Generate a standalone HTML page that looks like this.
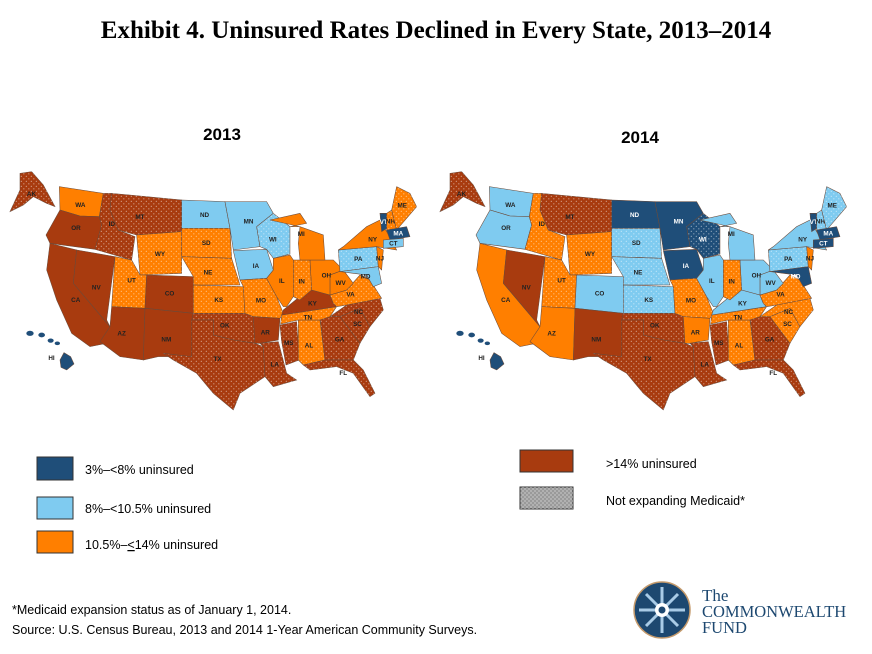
<!DOCTYPE html>
<html><head><meta charset="utf-8"><style>
body{margin:0;background:#fff;width:872px;height:654px;overflow:hidden;font-family:"Liberation Sans",sans-serif}
svg{display:block}
</style></head><body>
<svg id="chart" width="872" height="654" viewBox="0 0 872 654" xmlns="http://www.w3.org/2000/svg">
<defs>
<pattern id="dots" width="15" height="15" patternUnits="userSpaceOnUse">
<circle cx="4" cy="4" r="1.8" fill="#fff" opacity="0.55"/><circle cx="11.5" cy="11.5" r="1.8" fill="#fff" opacity="0.55"/>
</pattern>
<pattern id="dotsL" width="4" height="4" patternUnits="userSpaceOnUse">
<circle cx="1" cy="1" r="0.6" fill="#fff" opacity="0.8"/><circle cx="3" cy="3" r="0.6" fill="#fff" opacity="0.8"/>
</pattern>
</defs>
<text x="436" y="38" text-anchor="middle" font-family="Liberation Serif,serif" font-weight="bold" font-size="25" fill="#000">Exhibit 4. Uninsured Rates Declined in Every State, 2013–2014</text>
<text x="222" y="140" text-anchor="middle" font-weight="bold" font-size="17">2013</text>
<text x="640" y="143" text-anchor="middle" font-weight="bold" font-size="17">2014</text>
<g id="map2013" transform="translate(0,160) scale(0.3333)"></g>
<g id="map2014" transform="translate(430,160) scale(0.3333)"></g>
<g font-size="12.5" fill="#000">
<rect x="37" y="457" width="36" height="23" fill="#1f4e79" stroke="#333"/>
<text x="85" y="474">3%–&lt;8% uninsured</text>
<rect x="37" y="497" width="36" height="22" fill="#7fcbf0" stroke="#333"/>
<text x="85" y="513">8%–&lt;10.5% uninsured</text>
<rect x="37" y="531" width="36" height="22" fill="#ff7f00" stroke="#333"/>
<text x="85" y="549">10.5%–<tspan text-decoration="underline">&lt;</tspan>14% uninsured</text>
<rect x="520" y="450" width="53" height="22" fill="#a83b0f" stroke="#333"/>
<text x="606" y="468">&gt;14% uninsured</text>
<rect x="520" y="487" width="53" height="22" fill="#9a9a9a" stroke="#333"/>
<rect x="520" y="487" width="53" height="22" fill="url(#dotsL)"/>
<text x="606" y="505">Not expanding Medicaid*</text>
</g>
<text x="12" y="614" font-size="12.5">*Medicaid expansion status as of January 1, 2014.</text>
<text x="12" y="634" font-size="12.5">Source: U.S. Census Bureau, 2013 and 2014 1-Year American Community Surveys.</text>
<g>
<circle cx="662" cy="610" r="28" fill="#1d4870" stroke="#c49a6c" stroke-width="1.5"/>
<g stroke="#a9cbe6" stroke-width="3">
<line x1="662" y1="587" x2="662" y2="633"/><line x1="639" y1="610" x2="685" y2="610"/>
<line x1="646" y1="594" x2="678" y2="626"/><line x1="678" y1="594" x2="646" y2="626"/>
</g>
<circle cx="662" cy="610" r="7" fill="#fff"/><circle cx="662" cy="610" r="3.5" fill="#1d4870"/>
<g font-family="Liberation Serif,serif" fill="#1d4870">
<text x="702" y="601" font-size="17">The</text>
<text x="702" y="617" font-size="16.5">COMMONWEALTH</text>
<text x="702" y="633" font-size="16.5">FUND</text>
</g>
</g>
</svg>
<script>
const states = ["AK","WA","OR","CA","NV","ID","MT","WY","UT","CO","AZ","NM","ND","SD","NE","KS","OK","TX","MN","IA","WI","MO","AR","LA","MS","AL","GA","FL","SC","NC","TN","KY","VA","WV","OH","IN","IL","MI","PA","NY","NJ","MD","VT","NH","ME","MA","CT","HI"];
const cat2013 = ["R","O","R","R","R","R","R","O","O","R","R","R","L","O","O","O","R","R","L","L","L","O","R","R","R","O","R","R","R","R","O","R","O","O","O","O","O","O","L","O","O","L","B","O","O","B","L","B"];
const cat2014 = ["R","L","L","O","R","O","R","O","O","L","O","R","B","L","L","L","R","R","B","B","B","O","O","R","R","O","R","R","O","O","O","L","O","L","L","O","L","L","L","L","O","B","B","L","L","B","B","B"];
const notExpanding = ["AK","ID","MT","WY","UT","SD","NE","KS","OK","TX","WI","MO","LA","MS","AL","GA","FL","SC","NC","TN","VA","IN","PA","NH","ME"];
const shapes = {
AK:"30,155 60,90 60,40 95,35 130,75 165,140 140,130 100,110 70,135",
WA:"178,80 310,100 298,170 240,168 180,150",
OR:"180,150 240,168 298,170 305,195 285,268 150,250 138,225",
CA:"150,250 230,270 220,370 330,500 320,550 270,560 215,520 170,420 140,330",
NV:"230,270 345,290 320,480 330,500 220,370",
ID:"310,100 335,100 330,150 355,210 405,230 395,300 285,268 305,195 298,170",
MT:"335,100 545,120 545,215 410,225 355,210 330,150",
WY:"410,225 545,215 545,340 420,345",
UT:"345,290 395,300 420,345 440,345 435,445 335,440",
CO:"440,345 580,350 580,460 435,445",
AZ:"335,440 435,445 430,600 360,590 300,545 330,500",
NM:"435,445 580,460 575,590 475,590 430,600",
ND:"545,120 675,125 690,205 545,205",
SD:"545,205 690,205 695,295 545,290",
NE:"545,290 695,295 720,375 580,375 580,350",
KS:"580,375 730,380 735,460 580,460",
OK:"580,460 735,460 760,470 765,550 700,540 640,525 640,480 575,480",
TX:"575,480 640,480 640,525 700,540 765,550 790,560 795,650 720,700 700,750 640,700 590,640 520,600 490,580 575,590",
MN:"675,125 730,125 800,125 820,160 770,200 780,260 700,270 690,205",
IA:"700,272 800,268 820,330 800,355 720,360",
WI:"770,200 820,160 870,200 870,282 820,295 800,268 780,260",
MO:"720,360 800,355 830,410 850,460 840,475 760,470 735,460 730,380",
AR:"760,470 840,475 835,540 780,550 765,550",
LA:"780,550 835,545 860,640 890,660 820,680 795,650 790,560",
MS:"840,495 890,485 898,600 858,615 845,545",
AL:"895,480 960,480 975,600 910,615 895,600",
GA:"960,470 1020,470 1080,550 1060,600 975,600",
FL:"910,615 975,600 1060,600 1090,630 1125,700 1110,710 1060,640 1010,620 930,630",
SC:"1020,470 1080,445 1110,500 1080,550",
NC:"990,470 1040,435 1140,415 1150,450 1110,500 1080,445 1020,470",
TN:"845,465 1010,440 990,470 960,480 895,480 842,492",
KY:"850,450 930,385 990,405 1000,430 1010,440 845,465",
VA:"990,405 1040,390 1080,345 1110,360 1145,415 1040,435 1010,440 1000,430",
WV:"990,345 1030,330 1060,370 1040,390 990,405",
OH:"930,300 1000,300 1030,330 990,345 990,405 935,390",
IN:"880,300 930,300 935,390 900,420 880,410",
IL:"820,295 870,285 880,300 880,410 860,440 850,440 830,410 800,355 820,330",
MI:"900,200 970,225 975,300 900,300 895,250 900,200 810,180 900,160 920,190 870,200",
PA:"1015,270 1130,260 1135,320 1020,335",
NY:"1030,260 1100,200 1140,180 1160,215 1180,250 1190,270 1130,260 1015,270",
NJ:"1130,260 1150,270 1145,330 1135,320",
MD:"1020,335 1135,320 1145,370 1120,380 1100,345 1060,340",
VT:"1140,160 1160,160 1160,205 1145,215",
NH:"1160,160 1175,150 1190,210 1160,215",
ME:"1175,150 1190,80 1230,100 1250,140 1190,210",
MA:"1160,210 1220,200 1230,230 1170,240",
CT:"1150,240 1210,235 1210,260 1150,265",
HI:"180,600 192,578 212,590 222,612 200,630 183,622"
};
const colors = {B:"#1f4e79",L:"#7fcbf0",O:"#ff7f00",R:"#a83b0f"};
const NS = "http://www.w3.org/2000/svg";
function drawMap(gid, cats) {
  const g = document.getElementById(gid);
  states.forEach((s, i) => {
    const p = document.createElementNS(NS, "polygon");
    
    
    p.setAttribute("points", shapes[s]);
    p.setAttribute("fill", colors[cats[i]]);
    p.setAttribute("stroke", "#6a4a3a");
    p.setAttribute("stroke-width", "1.6");
    g.appendChild(p);
    if (notExpanding.includes(s)) {
      const d = document.createElementNS(NS, "polygon");
      
      
      d.setAttribute("points", shapes[s]);
      d.setAttribute("fill", "url(#dots)");
      g.appendChild(d);
    }
    if (s === "HI") return;
    const pts = shapes[s].split(" ").map(q => q.split(",").map(Number));
    let cx = 0, cy = 0;
    pts.forEach(q => { cx += q[0]; cy += q[1]; });
    cx /= pts.length; cy /= pts.length;
    const t = document.createElementNS(NS, "text");
    
    
    t.setAttribute("x", cx); t.setAttribute("y", cy + 7);
    t.setAttribute("text-anchor", "middle");
    t.setAttribute("font-size", "19");
    t.setAttribute("font-weight", "bold");
    t.setAttribute("fill", cats[i] === "B" ? "#fff" : "#222");
    t.textContent = s;
    g.appendChild(t);
  });
  const hl = document.createElementNS(NS, "text");
  
  
  hl.setAttribute("x", 145); hl.setAttribute("y", 600);
  hl.setAttribute("font-size", "19");
  hl.setAttribute("font-weight", "bold");
  hl.setAttribute("fill", "#222");
  hl.textContent = "HI";
  g.appendChild(hl);
  [[90,520,11],[125,525,10],[152,542,9],[172,550,8]].forEach((c) => {
    const e = document.createElementNS(NS, "ellipse");
    
    
    e.setAttribute("cx", c[0]); e.setAttribute("cy", c[1]);
    e.setAttribute("rx", c[2]); e.setAttribute("ry", c[2] * 0.7);
    e.setAttribute("fill", colors[cats[states.indexOf("HI")]]);
    g.appendChild(e);
  });
}
drawMap("map2013", cat2013);
drawMap("map2014", cat2014);
</script>
</body></html>
